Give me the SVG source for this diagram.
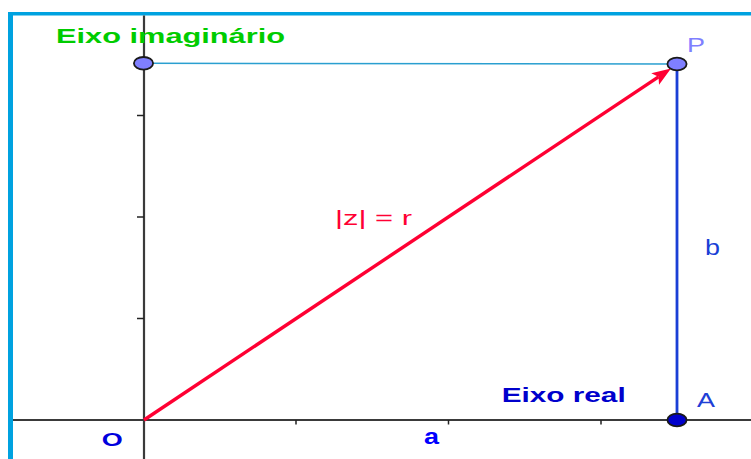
<svg xmlns="http://www.w3.org/2000/svg" width="751" height="459" viewBox="0 0 751 459">
<defs>
<style>
.t{font-family:"Liberation Sans",Arial,sans-serif}
.b{font-weight:bold}
.axis{stroke:#3a3a3a;stroke-width:2.2;fill:none}
.tick{stroke:#222;stroke-width:1.5}
.pt{stroke:#1a1a1a;stroke-width:1.8}
</style>
<marker id="ah" markerUnits="userSpaceOnUse" markerWidth="20" markerHeight="15" refX="4" refY="7" orient="auto">
<path d="M0,0 L19,7 L0,14 L4,7 z" fill="#ff0033"/>
</marker>
</defs>
<rect width="751" height="459" fill="#ffffff"/>
<g id="border" fill="#00a2e0">
<rect x="8" y="12" width="743" height="3.5"/>
<rect x="8" y="12" width="5" height="447"/>
</g>
<g id="connectors">
<line class="axis" x1="13" y1="420" x2="751" y2="420" style="stroke-width:1.8"/>
<line class="axis" x1="144" y1="15.5" x2="144" y2="459"/>
<line class="tick" x1="137" y1="115.5" x2="144" y2="115.5"/>
<line class="tick" x1="137" y1="217" x2="144" y2="217"/>
<line class="tick" x1="137" y1="318.5" x2="144" y2="318.5"/>
<line class="tick" x1="296" y1="420" x2="296" y2="424.5"/>
<line class="tick" x1="448.5" y1="420" x2="448.5" y2="424.5"/>
<line class="tick" x1="601" y1="420" x2="601" y2="424.5"/>
<line x1="144" y1="63.3" x2="677" y2="64" stroke="#2a9fd0" stroke-width="1.6"/>
<line x1="677" y1="64" x2="677" y2="420" stroke="#1a3fd6" stroke-width="2.8"/>
<line x1="144" y1="420" x2="658.5" y2="76.8" stroke="#ff0033" stroke-width="3.4" marker-end="url(#ah)"/>
</g>
<g id="imag-point">
<ellipse class="pt" cx="143.5" cy="63.3" rx="9.6" ry="6.3" fill="#7f7fff"/>
</g>
<g id="P">
<ellipse class="pt" cx="677" cy="64" rx="9.6" ry="6.3" fill="#7f7fff"/>
<text class="t" x="687" y="52" font-size="21" fill="#7f7fff" textLength="18" lengthAdjust="spacingAndGlyphs">P</text>
</g>
<g id="A">
<ellipse class="pt" cx="677" cy="420" rx="9.6" ry="6.3" fill="#0000cc"/>
<text class="t" x="697" y="406.7" font-size="19.5" fill="#1f3fd6" textLength="18" lengthAdjust="spacingAndGlyphs">A</text>
</g>
<g id="O">
<text class="t b" x="101.7" y="446" font-size="18" fill="#0000dd" textLength="21" lengthAdjust="spacingAndGlyphs">O</text>
</g>
<g id="labels">
<text class="t b" x="56" y="43.3" font-size="19.5" fill="#00cc00" textLength="229" lengthAdjust="spacingAndGlyphs">Eixo imaginário</text>
<text class="t b" x="501.7" y="401.7" font-size="20" fill="#0000cc" textLength="124" lengthAdjust="spacingAndGlyphs">Eixo real</text>
<text class="t" x="335" y="225" font-size="21" fill="#ff0033" textLength="77" lengthAdjust="spacingAndGlyphs">|z| = r</text>
<text class="t b" x="424" y="444" font-size="22" fill="#0000ff" textLength="15" lengthAdjust="spacingAndGlyphs">a</text>
<text class="t" x="705" y="255" font-size="21.5" fill="#1a3fd6" textLength="15" lengthAdjust="spacingAndGlyphs">b</text>
</g>
</svg>
